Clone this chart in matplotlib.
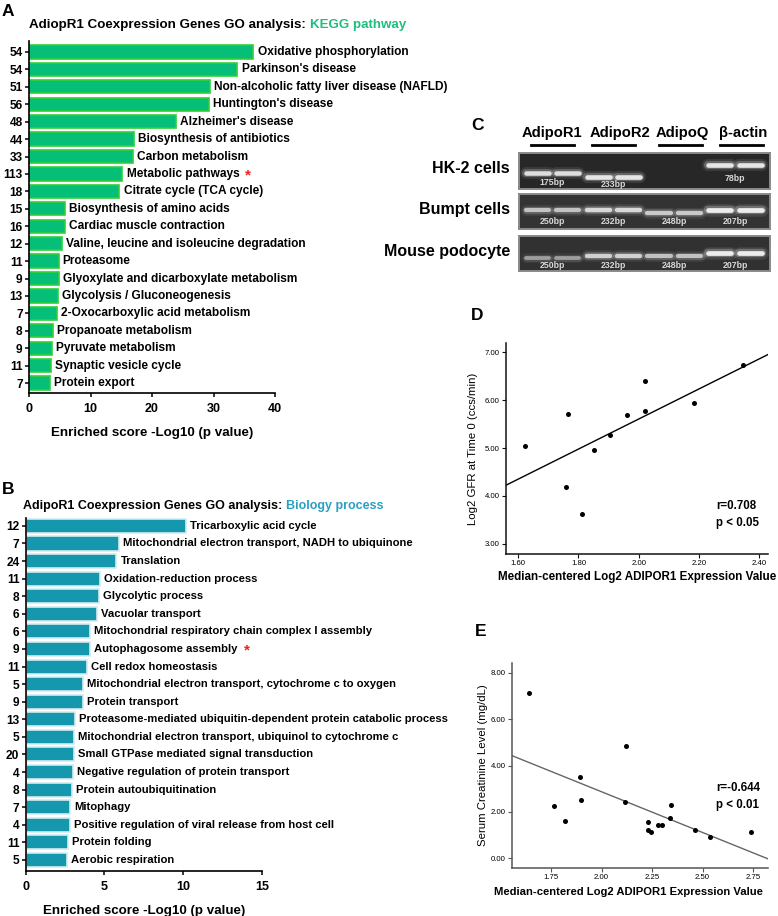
import matplotlib
matplotlib.use('Agg')
import matplotlib.pyplot as plt
import numpy as np
from matplotlib import rcParams

W, H = 778, 916

# ---- panel A: KEGG pathway ----
kegg_terms = ['Oxidative phosphorylation', "Parkinson's disease",
              'Non-alcoholic fatty liver disease (NAFLD)', "Huntington's disease",
              "Alzheimer's disease", 'Biosynthesis of antibiotics', 'Carbon metabolism',
              'Metabolic pathways', 'Citrate cycle (TCA cycle)', 'Biosynthesis of amino acids',
              'Cardiac muscle contraction', 'Valine, leucine and isoleucine degradation',
              'Proteasome', 'Glyoxylate and dicarboxylate metabolism',
              'Glycolysis / Gluconeogenesis', '2-Oxocarboxylic acid metabolism',
              'Propanoate metabolism', 'Pyruvate metabolism', 'Synaptic vesicle cycle',
              'Protein export']
kegg_counts = [54, 54, 51, 56, 48, 44, 33, 113, 18, 15, 16, 12, 11, 9, 13, 7, 8, 9, 11, 7]
kegg_scores = [36.5, 33.9, 29.4, 29.3, 23.9, 17.0, 16.9, 15.2, 14.7, 5.8,
               5.8, 5.4, 4.8, 4.8, 4.65, 4.5, 3.85, 3.7, 3.5, 3.4]

# ---- panel B: biology process ----
bp_terms = ['Tricarboxylic acid cycle', 'Mitochondrial electron transport, NADH to ubiquinone',
            'Translation', 'Oxidation-reduction process', 'Glycolytic process',
            'Vacuolar transport', 'Mitochondrial respiratory chain complex I assembly',
            'Autophagosome assembly', 'Cell redox homeostasis',
            'Mitochondrial electron transport, cytochrome c to oxygen', 'Protein transport',
            'Proteasome-mediated ubiquitin-dependent protein catabolic process',
            'Mitochondrial electron transport, ubiquinol to cytochrome c',
            'Small GTPase mediated signal transduction',
            'Negative regulation of protein transport', 'Protein autoubiquitination',
            'Mitophagy', 'Positive regulation of viral release from host cell',
            'Protein folding', 'Aerobic respiration']
bp_counts = [12, 7, 24, 11, 8, 6, 6, 9, 11, 5, 9, 13, 5, 20, 4, 8, 7, 4, 11, 5]
bp_scores = [10.16, 5.92, 5.75, 4.70, 4.63, 4.51, 4.10, 4.10, 3.87, 3.64,
             3.62, 3.13, 3.07, 3.05, 3.00, 2.94, 2.79, 2.79, 2.67, 2.60]

# ---- panel C: RT-PCR gel ----
gel_genes = ['AdipoR1', 'AdipoR2', 'AdipoQ', 'β-actin']
gel_rows = ['HK-2 cells', 'Bumpt cells', 'Mouse podocyte']
band_migration = [[0.56, 0.68, None, 0.33],
                  [0.47, 0.47, 0.53, 0.46],
                  [0.62, 0.56, 0.57, 0.49]]
band_strength = [[0.9, 0.95, 0.0, 0.95],
                 [0.7, 0.85, 0.75, 1.0],
                 [0.5, 0.8, 0.7, 1.0]]
band_sizes = [['175bp', '233bp', '', '78bp'],
              ['250bp', '232bp', '248bp', '207bp'],
              ['250bp', '232bp', '248bp', '207bp']]
size_label_y = [[0.82, 0.87, 0.0, 0.70],
                [0.80, 0.80, 0.80, 0.80],
                [0.84, 0.84, 0.84, 0.84]]

# ---- panel D: GFR ----
gfr_expr = [1.623, 1.764, 1.760, 1.811, 1.851, 1.905, 1.962, 2.020, 2.021, 2.185, 2.348]
gfr_log2 = [5.05, 5.70, 4.18, 3.62, 4.95, 5.28, 5.68, 6.40, 5.77, 5.94, 6.73]

# ---- panel E: serum creatinine ----
cre_expr = [1.640, 1.765, 1.821, 1.896, 1.898, 2.122, 2.118, 2.229, 2.230, 2.247,
            2.281, 2.298, 2.337, 2.345, 2.464, 2.539, 2.740]
cre_level = [7.10, 2.27, 1.62, 3.51, 2.51, 4.82, 2.45, 1.59, 1.23, 1.12,
             1.42, 1.42, 1.73, 2.32, 1.23, 0.93, 1.13]

rcParams['font.family'] = ['Liberation Sans', 'DejaVu Sans']

fig = plt.figure(figsize=(W / 100, H / 100), dpi=100)
renderer = fig.canvas.get_renderer()


def fig_axes(x0, y0, x1, y1):
    return fig.add_axes([x0 / W, 1 - y1 / H, (x1 - x0) / W, (y1 - y0) / H])


def ftext(x, y, s, **kw):
    return fig.text(x / W, 1 - y / H, s, **kw)


def text_after(t, s, gap=3, dy=0, **kw):
    bb = t.get_window_extent(renderer)
    yc = (bb.y0 + bb.y1) / 2 - dy
    return fig.text((bb.x1 + gap) / W, yc / H, s, va='center', ha='left', **kw)


def bar_panel(ax, terms, counts, scores, face, edge, xmax, step, lsize, ylim, height):
    y = np.arange(len(terms))
    ax.barh(y, scores, height=height, color=face, edgecolor=edge, linewidth=1.2)
    ax.set_yticks(y, [str(c) for c in counts])
    ax.set_ylim(*ylim)
    ax.set_xlim(0, xmax)
    ax.set_xticks(np.arange(0, xmax + 1, step))
    for s in ['top', 'right']:
        ax.spines[s].set_visible(False)
    for s in ['left', 'bottom']:
        ax.spines[s].set_linewidth(1.2)
    ax.tick_params(axis='both', length=3, width=1.1, pad=1.5)
    ax.tick_params(axis='y', labelsize=8.6)
    ax.tick_params(axis='x', labelsize=9, pad=4)
    for lab in ax.get_xticklabels() + ax.get_yticklabels():
        lab.set_fontweight('bold')
    ax.set_xlabel('Enriched score -Log10 (p value)', fontsize=9.6, fontweight='bold', labelpad=9)
    out = {}
    for yi, term, sc in zip(y, terms, scores):
        out[term] = ax.annotate(term, (sc, yi), xytext=(3, 0), textcoords='offset points',
                                va='center', ha='left', fontsize=lsize, fontweight='bold',
                                annotation_clip=False)
    return out


# panel A
axa = fig_axes(29, 41, 275, 393)
labs = bar_panel(axa, kegg_terms, kegg_counts, kegg_scores, '#05bf78', '#2fcf3a',
                 40, 10, 8.6, (19.57, -0.63), 0.76)
text_after(labs['Metabolic pathways'], '*', gap=6, dy=2, color='#ee2222', fontsize=11,
           fontweight='bold')
ftext(8, 11, 'A', fontsize=12.5, fontweight='bold', va='center', ha='center')
t = ftext(29, 25, 'AdiopR1 Coexpression Genes GO analysis:', fontsize=9.6,
          fontweight='bold', va='center')
text_after(t, 'KEGG pathway', gap=4, color='#1dbf7f', fontsize=9.6, fontweight='bold')

# panel B
axb = fig_axes(25.7, 518, 262, 871)
labs = bar_panel(axb, bp_terms, bp_counts, bp_scores, '#1597ae', '#d2ecf1',
                 15, 5, 8.1, (19.63, -0.45), 0.8)
text_after(labs['Autophagosome assembly'], '*', gap=6, dy=2, color='#ee2222', fontsize=11,
           fontweight='bold')
ftext(8, 490, 'B', fontsize=12.5, fontweight='bold', va='center', ha='center')
t = ftext(23, 506, 'AdipoR1 Coexpression Genes GO analysis:', fontsize=9.0,
          fontweight='bold', va='center')
text_after(t, 'Biology process', gap=4, color='#2aa0c4', fontsize=9.0, fontweight='bold')

# panel C
ftext(477, 126, 'C', fontsize=12.5, fontweight='bold', va='center', ha='center')
gel_boxes = [(519, 153, 770, 189), (519, 194, 770, 229), (519, 236, 770, 271)]
gel_faces = ['#272727', '#333333', '#313131']
for box, face, row, mig, strength, sizes, ly in zip(gel_boxes, gel_faces, gel_rows,
                                                    band_migration, band_strength,
                                                    band_sizes, size_label_y):
    ax = fig_axes(*box)
    ax.set_facecolor(face)
    ax.set_xlim(-0.6, 7.65)
    ax.set_ylim(1, 0)
    ax.set_xticks([])
    ax.set_yticks([])
    for sp in ax.spines.values():
        sp.set_color('#8a8a8a')
        sp.set_linewidth(1.4)
    for g in range(len(gel_genes)):
        if mig[g] is None:
            continue
        s = strength[g]
        for lane in (2 * g, 2 * g + 1):
            for lw, a in [(9, 0.10), (6, 0.25), (3.4, 0.95)]:
                ax.plot([lane - 0.38, lane + 0.38], [mig[g], mig[g]], color='#f4f4f4',
                        lw=lw * (0.6 + 0.4 * s), alpha=a * s, solid_capstyle='round')
        ax.text(2 * g + 0.5, ly[g], sizes[g], color='#d8d8d8', fontsize=6.3,
                fontweight='bold', ha='center', va='center')
    ax.text(-0.036, 0.57, row, transform=ax.transAxes, ha='right', va='center',
            fontsize=11.5, fontweight='bold')

head_x = [552, 620, 682, 743]
line_x = [552, 613, 680, 741]
for gene, hx, lx in zip(gel_genes, head_x, line_x):
    ftext(hx, 133, gene, ha='center', va='center', fontsize=10.6, fontweight='bold')
    fig.add_artist(plt.Line2D([(lx - 21.5) / W, (lx + 21.5) / W], [1 - 144.5 / H] * 2,
                              color='black', lw=2.0))


def scatter_panel(ax, xv, yv, xlim, ylim, xticks, yticks, ylabel, line_color, spine_color,
                  ylab_x, xlab_x, xlab_y, xlab_size):
    ax.set_xlim(*xlim)
    ax.set_ylim(*ylim)
    ax.scatter(xv, yv, s=13, color='black', zorder=3, linewidths=0)
    slope, icpt = np.polyfit(xv, yv, 1)
    xs = np.array(xlim)
    ax.plot(xs, slope * xs + icpt, color=line_color, lw=1.0)
    ax.set_xticks(xticks, ['%.2f' % v for v in xticks])
    ax.set_yticks(yticks, ['%.2f' % v for v in yticks])
    for s in ['top', 'right']:
        ax.spines[s].set_visible(False)
    for s in ['left', 'bottom']:
        ax.spines[s].set_linewidth(1.1)
        ax.spines[s].set_color(spine_color)
    ax.tick_params(axis='both', length=3, width=0.8, labelsize=5.6, pad=1.5,
                   color=spine_color)
    ax.set_xlabel('Median-centered Log2 ADIPOR1 Expression Value', fontsize=xlab_size,
                  fontweight='bold', va='center')
    ax.set_ylabel(ylabel, fontsize=8.2, va='center')
    ax.yaxis.set_label_coords(ylab_x, 0.5)
    ax.xaxis.set_label_coords(xlab_x, xlab_y)


# panel D
ftext(477, 316, 'D', fontsize=12.5, fontweight='bold', va='center', ha='center')
axd = fig_axes(506, 343, 768, 554)
scatter_panel(axd, gfr_expr, gfr_log2, (1.559, 2.43), (2.79, 7.19),
              [1.6, 1.8, 2.0, 2.2, 2.4], [3, 4, 5, 6, 7],
              'Log2 GFR at Time 0 (ccs/min)', 'black', '#111111', -0.126, 0.5, -0.109, 8.4)
ftext(716, 506, 'r=0.708', fontsize=8.3, fontweight='bold', va='center')
ftext(716, 523, 'p < 0.05', fontsize=8.3, fontweight='bold', va='center')

# panel E
ftext(481, 632, 'E', fontsize=12.5, fontweight='bold', va='center', ha='center')
axe = fig_axes(512, 663, 768, 868)
scatter_panel(axe, cre_expr, cre_level, (1.557, 2.824), (-0.41, 8.41),
              [1.75, 2.0, 2.25, 2.5, 2.75], [0, 2, 4, 6, 8],
              'Serum Creatinine Level (mg/dL)', '#666666', '#555555', -0.113, 0.453,
              -0.117, 8.1)
ftext(716, 788, 'r=-0.644', fontsize=8.3, fontweight='bold', va='center')
ftext(716, 805, 'p < 0.01', fontsize=8.3, fontweight='bold', va='center')

fig.savefig('out.png', dpi=100)
